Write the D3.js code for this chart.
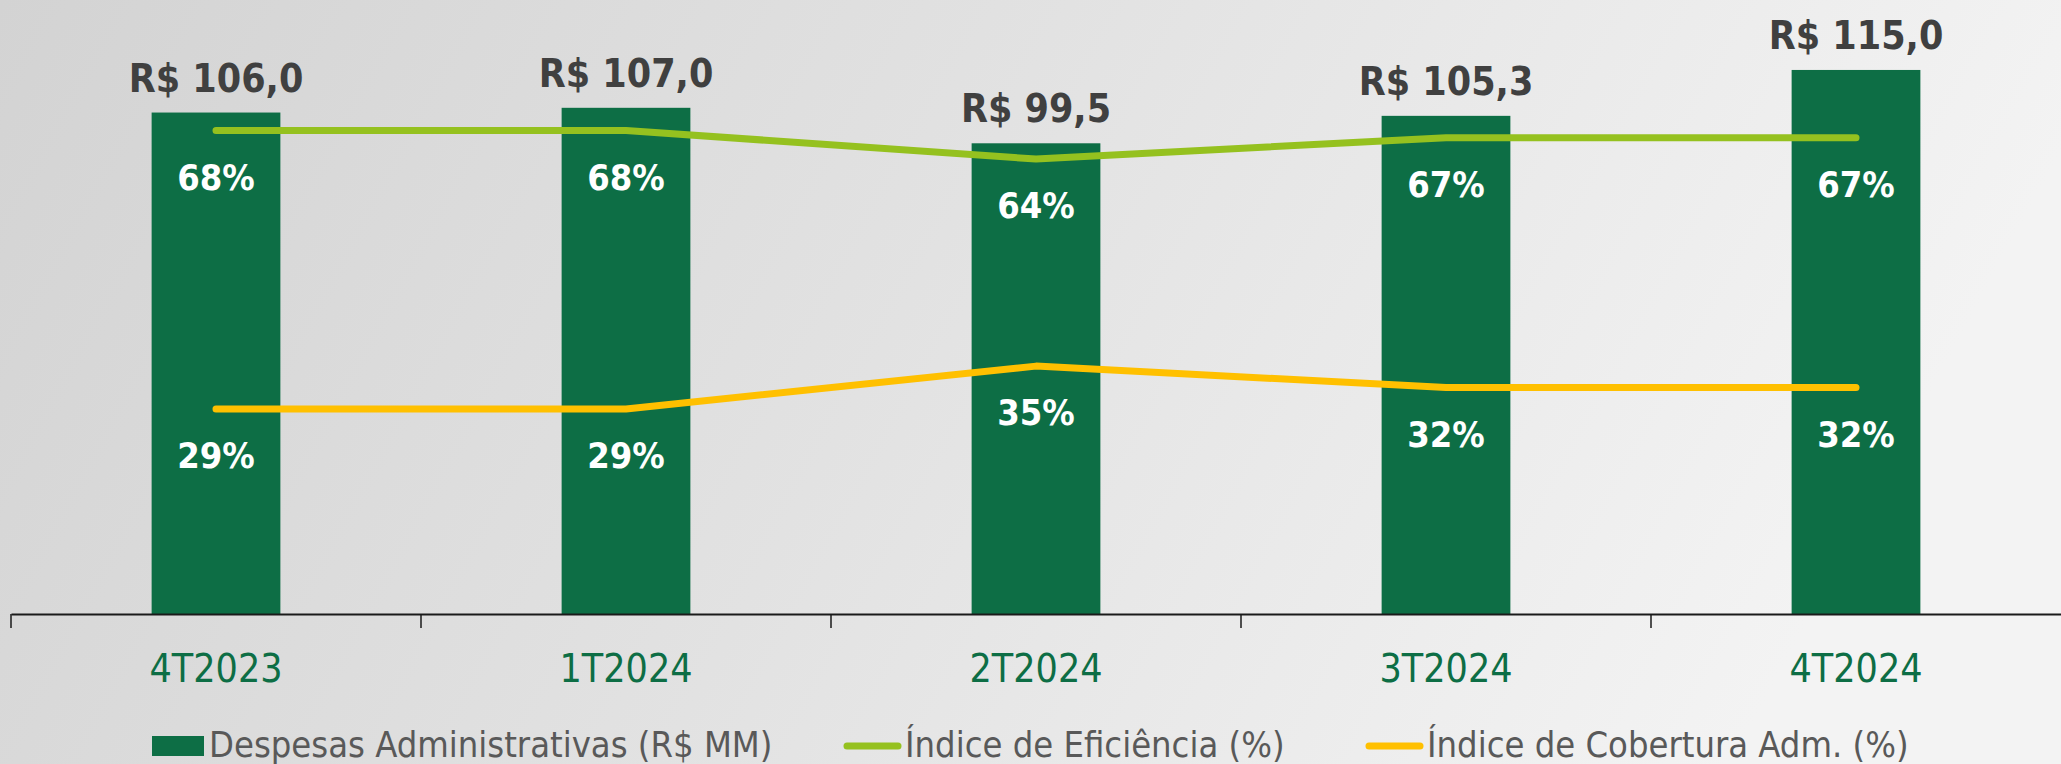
<!DOCTYPE html>
<html>
<head>
<meta charset="utf-8">
<script src="https://cdn.jsdelivr.net/npm/d3@7"></script>
<style>
    html, body { margin: 0; padding: 0; overflow: hidden; }
    text { font-family: "DejaVu Sans", sans-serif; font-stretch: condensed; }
</style>
</head>
<body>
<div id="chart"></div>
<script>
// dados do gráfico
const categories = ['4T2023', '1T2024', '2T2024', '3T2024', '4T2024']
const despesas = [106.0, 107.0, 99.5, 105.3, 115.0]
const despesasLabels = ['R$ 106,0', 'R$ 107,0', 'R$ 99,5', 'R$ 105,3', 'R$ 115,0']
const eficiencia = [68, 68, 64, 67, 67]
const cobertura = [29, 29, 35, 32, 32]
const legendLabels = ['Despesas Administrativas (R$ MM)', 'Índice de Eficiência (%)', 'Índice de Cobertura Adm. (%)']

function drawChart() {
    var width = 2061,
        height = 764,
        baseline = 614,
        left = 11,
        barColor = '#0d6e45',
        greenColor = '#95c11f',
        yellowColor = '#ffc000';

    var svg = d3.select('#chart')
        .append('svg')
        .attr('width', width)
        .attr('height', height);

    // fundo cinza em degradê
    var grad = svg.append('defs').append('linearGradient')
        .attr('id', 'bg')
        .attr('x1', '0%').attr('y1', '0%')
        .attr('x2', '100%').attr('y2', '20%');
    grad.append('stop').attr('offset', '0%').attr('stop-color', '#d3d3d3');
    grad.append('stop').attr('offset', '50%').attr('stop-color', '#e2e2e2');
    grad.append('stop').attr('offset', '100%').attr('stop-color', '#f3f3f3');
    svg.append('rect')
        .attr('width', width)
        .attr('height', height)
        .attr('fill', 'url(#bg)');

    var x = d3.scaleBand().domain(categories).range([left, width]).padding(0);
    var y = d3.scaleLinear().domain([0, 130]).range([baseline, -1]);
    var y2 = d3.scaleLinear().domain([0, 86]).range([616, 2]);
    var barWidth = x.bandwidth() * 0.314;
    var cx = d => x(d) + x.bandwidth() / 2;

    // barras
    svg.selectAll('.bar')
        .data(categories)
        .enter().append('rect')
        .attr('class', 'bar')
        .attr('x', d => cx(d) - barWidth / 2)
        .attr('y', (d, i) => y(despesas[i]))
        .attr('width', barWidth)
        .attr('height', (d, i) => baseline - y(despesas[i]))
        .attr('fill', barColor);

    // rótulos das barras
    svg.selectAll('.bar-label')
        .data(categories)
        .enter().append('text')
        .attr('class', 'bar-label')
        .attr('x', d => cx(d))
        .attr('y', (d, i) => y(despesas[i]) - 21)
        .attr('text-anchor', 'middle')
        .attr('fill', '#404040')
        .style('font-size', '39px')
        .style('font-weight', 'bold')
        .text((d, i) => despesasLabels[i]);

    // linhas
    var series = [
        { values: eficiencia, color: greenColor },
        { values: cobertura, color: yellowColor }
    ];
    var line = d3.line()
        .x((d, i) => cx(categories[i]))
        .y(d => y2(d));

    series.forEach(s => {
        svg.append('path')
            .datum(s.values)
            .attr('d', line)
            .attr('fill', 'none')
            .attr('stroke', s.color)
            .attr('stroke-width', 7)
            .attr('stroke-linecap', 'round')
            .attr('stroke-linejoin', 'round');

        svg.selectAll(null)
            .data(s.values)
            .enter().append('text')
            .attr('x', (d, i) => cx(categories[i]))
            .attr('y', d => y2(d) + 59)
            .attr('text-anchor', 'middle')
            .attr('fill', 'white')
            .style('font-size', '36px')
            .style('font-weight', 'bold')
            .text(d => d + '%');
    });

    // eixo X
    var xAxis = d3.axisBottom(x).tickSize(0).tickPadding(40);
    var gx = svg.append('g')
        .attr('class', 'x-axis')
        .attr('transform', `translate(0,${baseline})`)
        .call(xAxis);
    gx.select('.domain')
        .attr('stroke', '#1a1a1a')
        .attr('stroke-width', 2);
    gx.selectAll('.tick text')
        .attr('fill', barColor)
        .style('font-size', '39px');

    gx.selectAll('.sep')
        .data(categories)
        .enter().append('line')
        .attr('class', 'sep')
        .attr('x1', d => x(d))
        .attr('x2', d => x(d))
        .attr('y1', 0)
        .attr('y2', 14)
        .attr('stroke', '#1a1a1a')
        .attr('stroke-width', 1.5);

    // legenda
    var legendX = [152, 844, 1366];
    var legend = svg.append('g').attr('class', 'legend');
    legendLabels.forEach((label, i) => {
        var g = legend.append('g').attr('transform', `translate(${legendX[i]},746)`);
        if (i === 0) {
            g.append('rect')
                .attr('x', 0).attr('y', -10)
                .attr('width', 52).attr('height', 20)
                .attr('fill', barColor);
        } else {
            g.append('line')
                .attr('x1', 3).attr('x2', 54)
                .attr('y1', 0).attr('y2', 0)
                .attr('stroke', i === 1 ? greenColor : yellowColor)
                .attr('stroke-width', 7)
                .attr('stroke-linecap', 'round');
        }
        g.append('text')
            .attr('x', i === 0 ? 57 : 61)
            .attr('y', 11)
            .attr('fill', '#595959')
            .style('font-size', '36px')
            .text(label);
    });
}

drawChart()
</script>
</body>
</html>
